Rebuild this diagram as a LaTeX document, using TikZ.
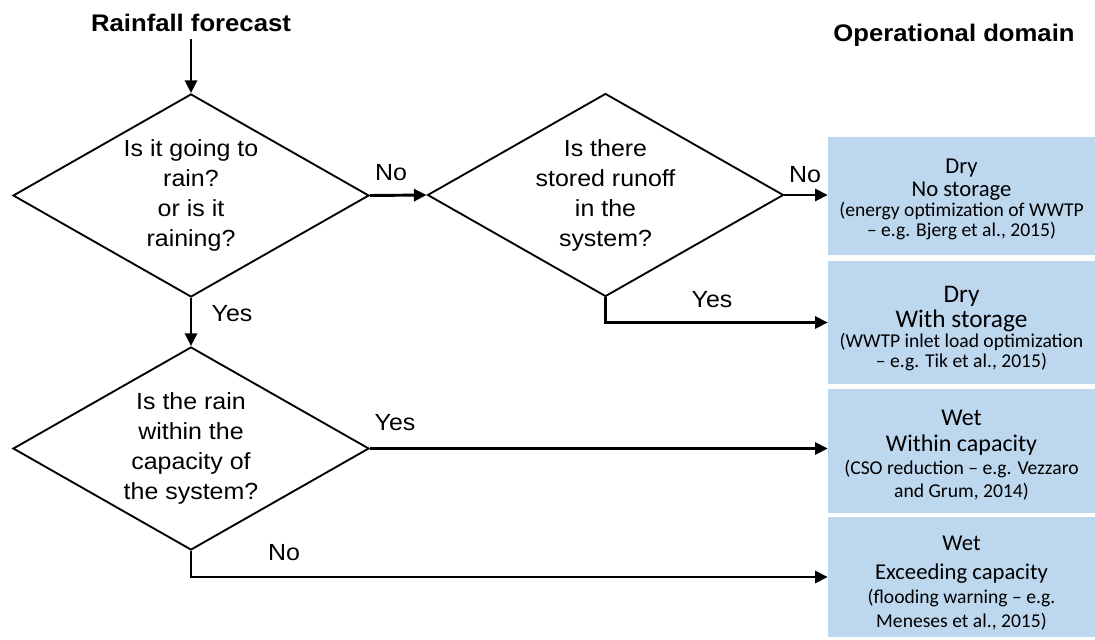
\documentclass[tikz,border=0pt]{standalone}
\usepackage{fontspec}
\setmainfont{Liberation Sans}[FakeStretch=1.07]
\newfontfamily\boxfont{Carlito}
\usetikzlibrary{arrows.meta, shapes.geometric, positioning}
\definecolor{domainblue}{RGB}{189,215,238}
\newcommand{\domainnote}[1]{{\fontsize{14.7}{16}\selectfont #1}}

\begin{document}
\begin{tikzpicture}[x=0.75pt, y=-0.75pt, >={Triangle[length=9.5pt,width=9pt]},
	question/.style={diamond, draw, line width=1.4pt, inner sep=0pt, aspect=1.75, minimum width=267pt, minimum height=152.25pt, align=center, font=\fontsize{17.5}{22.5}\selectfont},
	opbox/.style={rectangle, fill=domainblue, minimum width=200.25pt, inner sep=0pt, align=center, font=\boxfont\fontsize{17}{19}\selectfont},
	flow/.style={->, line width=2.2pt},
	answer/.style={font=\fontsize{17.5}{21}\selectfont},
	heading/.style={font=\bfseries\fontsize{18}{21}\selectfont}]

		\useasboundingbox (0,0) rectangle (1095,639);

		\node[heading] (forecast) at (191,23) {Rainfall forecast};
		\node[heading] (opdomain) at (954,35) {Operational domain};

		\node[question] (q1) at (191,195.5) {Is it going to\\rain?\\or is it\\raining?};
		\node[question] (q2) at (605.5,195) {Is there\\stored runoff\\in the\\system?};
		\node[question] (q3) at (191,448.5) {Is the rain\\within the\\capacity of\\the system?};

		% operational domains
		\node[opbox, minimum height=88.5pt, font=\boxfont\fontsize{17}{17.5}\selectfont] (dry1) at (961.5,196) {\rule{0pt}{15.5pt}Dry\\No storage\\[-2.75pt]\domainnote{(energy optimization of WWTP}\\[-2.5pt]\domainnote{– e.g. Bjerg et al., 2015)}};
		\node[opbox, minimum height=92.25pt, font=\boxfont\fontsize{19}{18.5}\selectfont] (dry2) at (961.5,322.5) {\rule{0pt}{21pt}Dry\\With storage\\[-3.25pt]\domainnote{(WWTP inlet load optimization}\\[-3.75pt]\domainnote{– e.g. Tik et al., 2015)}};
		\node[opbox, minimum height=93pt, font=\boxfont\fontsize{18}{19.5}\selectfont] (wet1) at (961.5,451) {\rule{0pt}{17.6pt}Wet\\Within capacity\\[-2pt]\domainnote{(CSO reduction – e.g. Vezzaro}\\[-2.5pt]\domainnote{and Grum, 2014)}};
		\node[opbox, minimum height=90pt, font=\boxfont\fontsize{17}{22}\selectfont] (wet2) at (961.5,577) {\rule{0pt}{20pt}Wet\\Exceeding capacity\\[-4pt]\domainnote{(flooding warning – e.g.}\\[-4.5pt]\domainnote{Meneses et al., 2015)}};

		\node[answer] (no1) at (391,173) {No};
		\node[answer] (no2) at (805,175) {No};
		\node[answer] (yes2) at (712,300) {Yes};
		\node[answer] (yes1) at (232,314) {Yes};
		\node[answer] (yes3) at (395,423) {Yes};
		\node[answer] (no3) at (284,553) {No};

		\draw[flow, shorten <=2pt] (forecast.south) -- (q1.north);
		\draw[flow] (q1.east) -- (q2.west);
		\draw[flow] (q2.east) -- (q2.east -| dry1.west);
		\draw[flow] (q2.south) |- (dry2.west);
		\draw[flow] (q1.south) -- (q3.north);
		\draw[flow] (q3.east) -- (q3.east -| wet1.west);
		\draw[flow] (q3.south) |- (wet2.west);

\end{tikzpicture}
\end{document}
